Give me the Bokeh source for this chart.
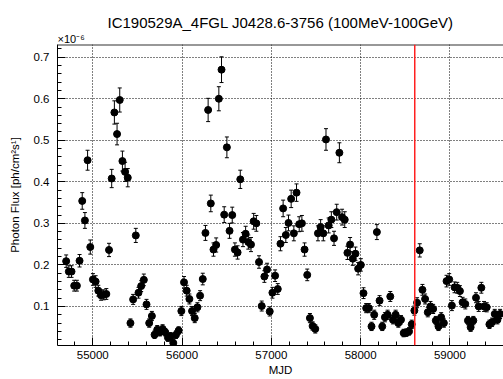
from bokeh.plotting import figure
from bokeh.models import (Range1d, FixedTicker, Title, Span,
                          Whisker, TeeHead, ColumnDataSource)
from bokeh.embed import file_html
from bokeh.resources import INLINE

# ---------------- data ----------------
TITLE = "IC190529A_4FGL J0428.6-3756 (100MeV-100GeV)"
X_LABEL = "MJD"
Y_LABEL = "Photon Flux [ph/cm\u00b2s\u00b9]"
SCALE_LABEL = "\u00d710\u207b\u2076"

mjd = [
    54702, 54732, 54762, 54792, 54822, 54852, 54882, 54912, 54942, 54972,
    55002, 55032, 55062, 55092, 55122, 55152, 55182, 55212, 55242, 55272,
    55302, 55332, 55362, 55392, 55422, 55452, 55482, 55512, 55542, 55572,
    55602, 55632, 55662, 55692, 55722, 55752, 55782, 55812, 55842, 55872,
    55902, 55932, 55962, 55992, 56022, 56052, 56082, 56112, 56142, 56172,
    56202, 56232, 56262, 56292, 56322, 56352, 56382, 56412, 56442, 56472,
    56502, 56532, 56562, 56592, 56622, 56652, 56682, 56712, 56742, 56772,
    56802, 56832, 56862, 56892, 56922, 56952, 56982, 57012, 57042, 57072,
    57102, 57132, 57162, 57192, 57222, 57252, 57282, 57312, 57342, 57372,
    57402, 57432, 57462, 57492, 57522, 57552, 57582, 57612, 57642, 57672,
    57702, 57732, 57762, 57792, 57822, 57852, 57882, 57912, 57942, 57972,
    58002, 58032, 58062, 58092, 58122, 58152, 58182, 58212, 58242, 58272,
    58302, 58332, 58362, 58392, 58422, 58452, 58482, 58512, 58542, 58572,
    58602, 58632, 58662, 58692, 58722, 58752, 58782, 58812, 58842, 58872,
    58902, 58932, 58962, 58992, 59022, 59052, 59082, 59112, 59142, 59172,
    59202, 59232, 59262, 59292, 59322, 59352, 59382, 59412, 59442, 59472,
    59502, 59532, 59562,
]

# photon flux in units of 1e-6 ph/cm^2/s
flux = [
    0.209, 0.184, 0.184, 0.150, 0.150, 0.210, 0.354, 0.307, 0.452, 0.243,
    0.165, 0.160, 0.138, 0.127, 0.128, 0.130, 0.236, 0.408, 0.567, 0.515,
    0.597, 0.450, 0.424, 0.410, 0.060, 0.117, 0.271, 0.133, 0.149, 0.164,
    0.105, 0.060, 0.077, 0.032, 0.044, 0.038, 0.046, 0.038, 0.025, 0.028,
    0.012, 0.032, 0.042, 0.089, 0.158, 0.138, 0.118, 0.089, 0.072, 0.098,
    0.126, 0.166, 0.277, 0.573, 0.348, 0.237, 0.248, 0.600, 0.670, 0.321,
    0.483, 0.282, 0.320, 0.237, 0.230, 0.406, 0.261, 0.275, 0.255, 0.249,
    0.305, 0.300, 0.207, 0.101, 0.172, 0.189, 0.088, 0.133, 0.174, 0.142,
    0.251, 0.336, 0.272, 0.301, 0.359, 0.276, 0.374, 0.298, 0.300, 0.237,
    0.176, 0.072, 0.053, 0.046, 0.276, 0.291, 0.276, 0.502, 0.295, 0.309,
    0.264, 0.327, 0.470, 0.315, 0.309, 0.229, 0.249, 0.215, 0.227, 0.191,
    0.200, 0.132, 0.096, 0.096, 0.052, 0.080, 0.279, 0.114, 0.052, 0.074,
    0.080, 0.124, 0.068, 0.080, 0.060, 0.068, 0.036, 0.037, 0.040, 0.057,
    0.090, 0.109, 0.235, 0.140, 0.118, 0.086, 0.100, 0.094, 0.066, 0.052,
    0.074, 0.060, 0.161, 0.165, 0.102, 0.146, 0.145, 0.137, 0.110, 0.106,
    0.066, 0.050, 0.066, 0.121, 0.100, 0.145, 0.100, 0.098, 0.057, 0.062,
    0.082, 0.068, 0.082,
]

flux_err = [
    0.015, 0.014, 0.014, 0.013, 0.013, 0.015, 0.020, 0.019, 0.024, 0.017,
    0.014, 0.014, 0.013, 0.012, 0.012, 0.013, 0.016, 0.022, 0.028, 0.026,
    0.029, 0.024, 0.023, 0.022, 0.010, 0.012, 0.017, 0.013, 0.013, 0.014,
    0.012, 0.010, 0.011, 0.009, 0.010, 0.009, 0.010, 0.009, 0.009, 0.009,
    0.008, 0.009, 0.009, 0.011, 0.014, 0.013, 0.012, 0.011, 0.011, 0.011,
    0.012, 0.014, 0.018, 0.028, 0.020, 0.016, 0.017, 0.029, 0.031, 0.019,
    0.025, 0.018, 0.019, 0.016, 0.016, 0.022, 0.017, 0.018, 0.017, 0.017,
    0.019, 0.019, 0.015, 0.012, 0.014, 0.015, 0.011, 0.013, 0.014, 0.013,
    0.017, 0.020, 0.018, 0.019, 0.021, 0.018, 0.021, 0.018, 0.019, 0.016,
    0.014, 0.011, 0.010, 0.010, 0.018, 0.018, 0.018, 0.026, 0.018, 0.019,
    0.017, 0.019, 0.024, 0.019, 0.019, 0.016, 0.017, 0.016, 0.016, 0.015,
    0.015, 0.013, 0.011, 0.011, 0.010, 0.011, 0.018, 0.012, 0.010, 0.011,
    0.011, 0.012, 0.010, 0.011, 0.010, 0.010, 0.009, 0.009, 0.009, 0.010,
    0.011, 0.012, 0.016, 0.013, 0.012, 0.011, 0.012, 0.011, 0.010, 0.010,
    0.011, 0.010, 0.014, 0.014, 0.012, 0.013, 0.013, 0.013, 0.012, 0.012,
    0.010, 0.010, 0.010, 0.012, 0.012, 0.013, 0.012, 0.011, 0.010, 0.010,
    0.011, 0.010, 0.011,
]

event_mjd = 58606  # IC190529A neutrino arrival (red line)

x_ticks = [55000, 56000, 57000, 58000, 59000]
x_tick_labels = ["55000", "56000", "57000", "58000", "59000"]
y_ticks = [0.1, 0.2, 0.3, 0.4, 0.5, 0.6, 0.7]
y_tick_labels = ["0.1", "0.2", "0.3", "0.4", "0.5", "0.6", "0.7"]

# ---------------- layout / style ----------------
X0, X1 = 54605, 59600
Y0, Y1 = 0.006, 0.7306
FONT = "Liberation Sans"

x_minor = list(range(54600, 59801, 200))
y_minor = [round(0.02 * i, 2) for i in range(0, 38)]

src = ColumnDataSource(dict(
    x=mjd,
    y=flux,
    upper=[f + e for f, e in zip(flux, flux_err)],
    lower=[f - e for f, e in zip(flux, flux_err)],
))

p = figure(width=503, height=379, output_backend="svg", toolbar_location=None,
           x_range=Range1d(X0, X1), y_range=Range1d(Y0, Y1),
           min_border_left=57, min_border_right=0,
           min_border_top=44, min_border_bottom=34,
           background_fill_color="white", border_fill_color="white")
p.outline_line_color = None

# titles (scale factor closest to frame, main title above it)
scale_title = Title(text=SCALE_LABEL, align="left", text_font=FONT,
                    text_font_size="11px", text_font_style="normal",
                    text_color="black", standoff=0)
main_title = Title(text=TITLE, align="center", text_font=FONT,
                   text_font_size="15px", text_font_style="normal",
                   text_color="black", standoff=0)
p.title = None
p.add_layout(scale_title, "above")
p.add_layout(main_title, "above")

p.xaxis.ticker = FixedTicker(ticks=x_ticks, minor_ticks=x_minor)
p.yaxis.ticker = FixedTicker(ticks=y_ticks, minor_ticks=y_minor)
p.xaxis.major_label_overrides = dict(zip(x_ticks, x_tick_labels))
p.yaxis.major_label_overrides = dict(zip(y_ticks, y_tick_labels))

for ax in (p.xaxis[0], p.yaxis[0]):
    ax.axis_line_color = "black"
    ax.axis_line_width = 1
    ax.major_tick_in = 8
    ax.major_tick_out = 0
    ax.minor_tick_in = 4
    ax.minor_tick_out = 0
    ax.major_tick_line_color = "black"
    ax.minor_tick_line_color = "black"
    ax.major_label_text_font = FONT
    ax.major_label_text_font_size = "11.5px"
    ax.major_label_text_color = "black"
    ax.axis_label_text_font = FONT
    ax.axis_label_text_font_size = "11.5px"
    ax.axis_label_text_font_style = "normal"
    ax.axis_label_text_color = "black"
p.xaxis.major_label_standoff = 5
p.yaxis.major_label_standoff = 8
p.xaxis.axis_label = X_LABEL
p.yaxis.axis_label = Y_LABEL
p.xaxis.axis_label_standoff = 2
p.yaxis.axis_label_standoff = 10

p.xgrid.ticker = FixedTicker(ticks=x_ticks)
p.ygrid.ticker = FixedTicker(ticks=y_ticks)
p.grid.grid_line_color = "black"
p.grid.grid_line_width = 1
p.grid.grid_line_dash = "1 2"

# top frame border
p.add_layout(Span(location=Y1, dimension="width", line_color="#333333",
                  line_width=2))

p.add_layout(Span(location=event_mjd, dimension="height",
                  line_color="#ff2020", line_width=1.5))

p.add_layout(Whisker(source=src, base="x", upper="upper", lower="lower",
                     dimension="height", line_color="black", line_width=1,
                     upper_head=TeeHead(size=4, line_color="black", line_width=1),
                     lower_head=TeeHead(size=4, line_color="black", line_width=1)))

p.scatter("x", "y", source=src, size=7, marker="circle",
          fill_color="black", line_color="black")

open("out.html", "w").write(file_html(p, INLINE))
